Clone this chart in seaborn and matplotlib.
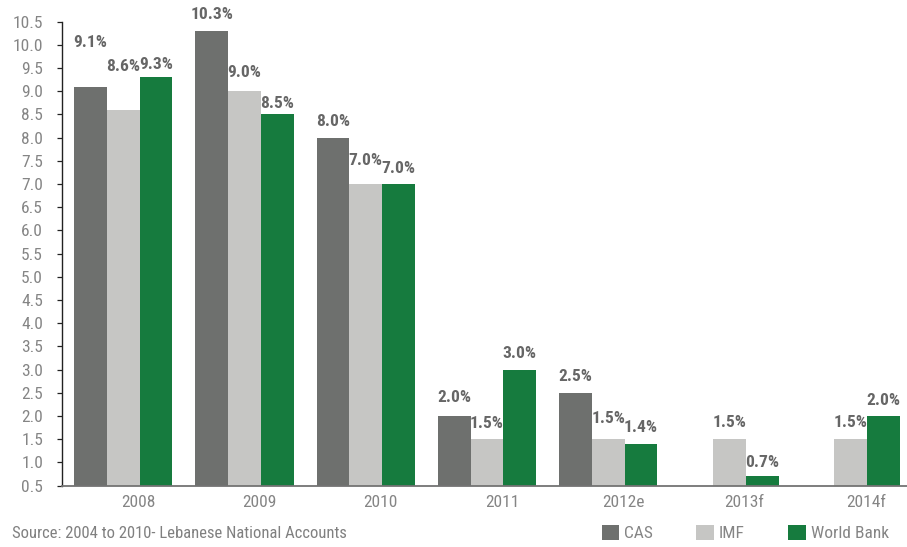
import numpy as np
import pandas as pd
import seaborn as sns
import matplotlib.pyplot as plt
from matplotlib import font_manager as fm
from matplotlib.patches import Patch
from matplotlib.transforms import ScaledTranslation

# Real GDP growth estimates (%)
years = ["2008", "2009", "2010", "2011", "2012e", "2013f", "2014f"]
cas = [9.1, 10.3, 8.0, 2.0, 2.5, np.nan, np.nan]
imf = [8.6, 9.0, 7.0, 1.5, 1.5, 1.5, 1.5]
world_bank = [9.3, 8.5, 7.0, 3.0, 1.4, 0.7, 2.0]
series_names = ["CAS", "IMF", "World Bank"]
y_tick_values = [0.5, 1.0, 1.5, 2.0, 2.5, 3.0, 3.5, 4.0, 4.5, 5.0, 5.5,
                 6.0, 6.5, 7.0, 7.5, 8.0, 8.5, 9.0, 9.5, 10.0, 10.5]
source_note = "Source: 2004 to 2010- Lebanese National Accounts"

# how far (pixels) each value label sits above its bar
label_lift = {
    "CAS": [44, 16, 16, 18, 16, 16, 16],
    "IMF": [43, 19, 24, 16, 21, 17, 17],
    "World Bank": [13, 11, 16, 16, 16, 14, 15],
}

colors = {"CAS": "#6e706e", "IMF": "#c6c6c4", "World Bank": "#167b3e"}
value_color = "#666666"
tick_color = "#858585"

sns.set_style("white")

# pick a narrow face when one is installed
names = {f.name for f in fm.fontManager.ttflist}
family = "DejaVu Sans"
for cand in ["Liberation Sans Narrow", "Roboto Condensed", "Open Sans Condensed",
             "DejaVu Sans Condensed"]:
    if cand in names:
        family = cand
        break
plt.rcParams["font.family"] = [family, "DejaVu Sans"]
plt.rcParams["font.stretch"] = "condensed"

df = pd.DataFrame({"year": years, "CAS": cas, "IMF": imf, "World Bank": world_bank})
long = df.melt(id_vars="year", var_name="source", value_name="growth").dropna()

W, H, DPI = 907, 547, 100
fig = plt.figure(figsize=(W / DPI, H / DPI), dpi=DPI)
ax = fig.add_axes([62 / W, 1 - 485.5 / H, (W - 62) / W, (485.5 - 21.7) / H])

sns.barplot(data=long, x="year", y="growth", hue="source", order=years,
            hue_order=series_names, palette=colors, width=0.81,
            saturation=1, legend=False, ax=ax, errorbar=None, linewidth=0)

ax.set_ylim(0.5, 10.5)
ax.set_xlim(-0.504, 6.463)
ax.set_yticks(y_tick_values)
ax.set_yticklabels([f"{v:.1f}" for v in y_tick_values])
ax.set_xlabel("")
ax.set_ylabel("")

for s in ["top", "right"]:
    ax.spines[s].set_visible(False)
ax.spines["left"].set_color("#222222")
ax.spines["left"].set_linewidth(1.0)
ax.spines["bottom"].set_color("#737373")
ax.spines["bottom"].set_linewidth(1.3)

ax.tick_params(axis="y", which="major", direction="out", length=3.6, width=0.9,
               color="#222222", labelsize=12.5, labelcolor=tick_color, pad=10, left=True)
ax.tick_params(axis="x", length=0, labelsize=12.5, labelcolor=tick_color, pad=7)

shift = ScaledTranslation(15 / DPI, 0, fig.dpi_scale_trans)
for lab in ax.get_xticklabels():
    lab.set_transform(lab.get_transform() + shift)

# value labels above bars
for name, cont in zip(series_names, ax.containers):
    for bar in cont:
        h = bar.get_height()
        if not np.isfinite(h):
            continue
        xc = bar.get_x() + bar.get_width() / 2
        j = int(round(xc))
        lift_pt = label_lift[name][j] * 72 / DPI
        ax.annotate(f"{h:.1f}%", (xc, h), xytext=(0, lift_pt),
                    textcoords="offset points", ha="center", va="center",
                    fontsize=12.5, fontweight="bold", color=value_color,
                    annotation_clip=False)

fig.text(12 / W, 1 - 533 / H, source_note, ha="left", va="center",
         fontsize=12, color="#808080")

handles = [Patch(facecolor=colors[n], edgecolor="none", label=n) for n in series_names]
leg = fig.legend(handles=handles, loc="center right",
                 bbox_to_anchor=(889 / W, 1 - 533 / H), ncol=3, frameon=False,
                 fontsize=12.5, handlelength=1.0, handleheight=1.0,
                 handletextpad=0.3, columnspacing=2.5, borderpad=0,
                 borderaxespad=0)
for t in leg.get_texts():
    t.set_color(tick_color)

fig.savefig("out.png", dpi=DPI)
